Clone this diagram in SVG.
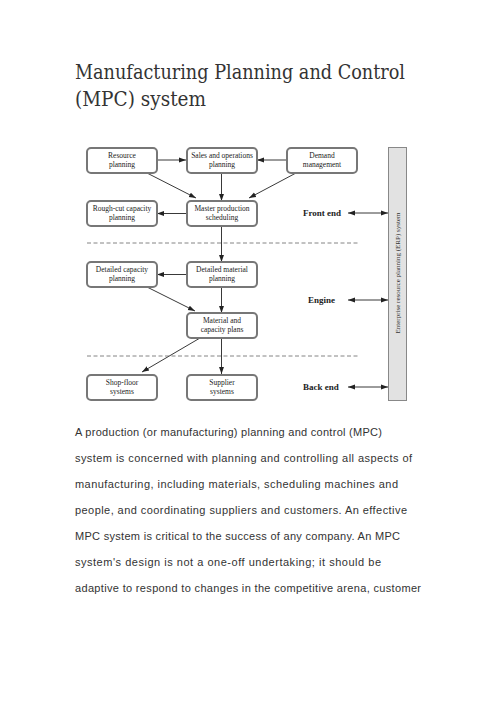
<svg xmlns="http://www.w3.org/2000/svg" width="496" height="702" viewBox="0 0 496 702">
<style>
.title{font-family:"DejaVu Serif","Liberation Serif",serif;font-size:20px;fill:#333}
.body{font-family:"Liberation Sans","Open Sans",sans-serif;font-size:11px;fill:#333}
.box rect{fill:#fff;stroke:#777;stroke-width:2}
.box text{font-family:"Liberation Serif",serif;font-size:7.5px;fill:#222;text-anchor:middle}
.lbl{font-family:"Liberation Serif",serif;font-size:9px;font-weight:bold;fill:#222}
.c line{stroke:#222;stroke-width:0.9;fill:none}
.dash{stroke:#666;stroke-width:0.8;stroke-dasharray:4 2.5}
</style>
<defs>
<marker id="ah" viewBox="0 0 10 10" refX="10" refY="5" markerWidth="7" markerHeight="7" orient="auto-start-reverse" markerUnits="userSpaceOnUse">
<path d="M0,1.5 L10,5 L0,8.5 z" fill="#222"/>
</marker>
</defs>
<rect width="496" height="702" fill="#fff"/>
<text class="title" x="75" y="79" textLength="330" lengthAdjust="spacingAndGlyphs">Manufacturing Planning and Control</text>
<text class="title" x="75" y="106" textLength="131" lengthAdjust="spacingAndGlyphs">(MPC) system</text>

<g id="erp">
<rect x="388.5" y="147.5" width="18" height="253" fill="#e2e2e2" stroke="#888" stroke-width="1"/>
<text transform="translate(400,273) rotate(-90)" text-anchor="middle" font-family="Liberation Serif, serif" font-size="7" fill="#333">Enterprise resource planning (ERP) system</text>
</g>

<g class="c" id="connectors">
<line x1="157" y1="160" x2="186" y2="160" marker-end="url(#ah)"/>
<line x1="287" y1="160" x2="257" y2="160" marker-end="url(#ah)"/>
<line x1="147" y1="173" x2="196" y2="198" marker-end="url(#ah)"/>
<line x1="221.5" y1="173" x2="221.5" y2="201" marker-end="url(#ah)"/>
<line x1="296" y1="173" x2="249" y2="198" marker-end="url(#ah)"/>
<line x1="186" y1="213.5" x2="157" y2="213.5" marker-end="url(#ah)"/>
<line x1="221.5" y1="226" x2="221.5" y2="262" marker-end="url(#ah)"/>
<line x1="186" y1="274.5" x2="157" y2="274.5" marker-end="url(#ah)"/>
<line x1="147" y1="287" x2="195" y2="311" marker-end="url(#ah)"/>
<line x1="221.5" y1="287" x2="221.5" y2="313" marker-end="url(#ah)"/>
<line x1="200" y1="338" x2="142" y2="372" marker-end="url(#ah)"/>
<line x1="221.5" y1="338" x2="221.5" y2="374" marker-end="url(#ah)"/>
<line x1="348" y1="213" x2="388" y2="213" marker-start="url(#ah)" marker-end="url(#ah)"/>
<line x1="348" y1="300" x2="388" y2="300" marker-start="url(#ah)" marker-end="url(#ah)"/>
<line x1="348" y1="387" x2="388" y2="387" marker-start="url(#ah)" marker-end="url(#ah)"/>
</g>
<line class="dash" x1="87" y1="243" x2="358" y2="243"/>
<line class="dash" x1="87" y1="356" x2="358" y2="356"/>

<g id="resource" class="box"><rect x="87" y="148" width="70" height="25" rx="4"/><text x="122" y="158">Resource</text><text x="122" y="167">planning</text></g>
<g id="sales" class="box"><rect x="187" y="148" width="70" height="25" rx="4"/><text x="222" y="158">Sales and operations</text><text x="222" y="167">planning</text></g>
<g id="demand" class="box"><rect x="287" y="148" width="70" height="25" rx="4"/><text x="322" y="158">Demand</text><text x="322" y="167">management</text></g>
<g id="roughcut" class="box"><rect x="87" y="201" width="70" height="25" rx="4"/><text x="122" y="211">Rough-cut capacity</text><text x="122" y="220">planning</text></g>
<g id="mps" class="box"><rect x="187" y="201" width="70" height="25" rx="4"/><text x="222" y="211">Master production</text><text x="222" y="220">scheduling</text></g>
<g id="dcp" class="box"><rect x="87" y="262" width="70" height="25" rx="4"/><text x="122" y="272">Detailed capacity</text><text x="122" y="281">planning</text></g>
<g id="dmp" class="box"><rect x="187" y="262" width="70" height="25" rx="4"/><text x="222" y="272">Detailed material</text><text x="222" y="281">planning</text></g>
<g id="mcp" class="box"><rect x="187" y="313" width="70" height="25" rx="4"/><text x="222" y="323">Material and</text><text x="222" y="332">capacity plans</text></g>
<g id="shopfloor" class="box"><rect x="87" y="375" width="70" height="25" rx="4"/><text x="122" y="385">Shop-floor</text><text x="122" y="394">systems</text></g>
<g id="supplier" class="box"><rect x="187" y="375" width="70" height="25" rx="4"/><text x="222" y="385">Supplier</text><text x="222" y="394">systems</text></g>

<text class="lbl" x="303" y="216">Front end</text>
<text class="lbl" x="308" y="303">Engine</text>
<text class="lbl" x="303" y="390">Back end</text>

<text class="body" x="75" y="436" textLength="307" lengthAdjust="spacing">A production (or manufacturing) planning and control (MPC)</text>
<text class="body" x="75" y="462" textLength="337" lengthAdjust="spacing">system is concerned with planning and controlling all aspects of</text>
<text class="body" x="75" y="488" textLength="323" lengthAdjust="spacing">manufacturing, including materials, scheduling machines and</text>
<text class="body" x="75" y="514" textLength="332" lengthAdjust="spacing">people, and coordinating suppliers and customers. An effective</text>
<text class="body" x="75" y="540" textLength="325" lengthAdjust="spacing">MPC system is critical to the success of any company. An MPC</text>
<text class="body" x="75" y="566" textLength="306" lengthAdjust="spacing">system's design is not a one-off undertaking; it should be</text>
<text class="body" x="75" y="592" textLength="346" lengthAdjust="spacing">adaptive to respond to changes in the competitive arena, customer</text>
</svg>
